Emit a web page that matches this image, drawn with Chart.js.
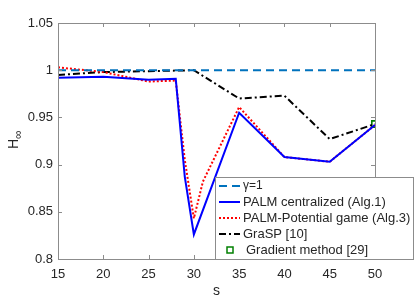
<!DOCTYPE html>
<html>
<head>
<meta charset="utf-8">
<script src="https://cdn.jsdelivr.net/npm/chart.js@4.4.0/dist/chart.umd.min.js"></script>
<style>
  html, body { margin: 0; padding: 0; background: #fff; }
  #wrap { width: 415px; height: 301px; }
</style>
</head>
<body>
<div id="wrap"><canvas id="hChart" width="415" height="301"></canvas></div>
<script>
// values
var sGamma   = [15, 50];
var hGamma   = [1.0, 1.0];

var sPalm    = [15, 20, 25, 28, 29, 30, 35, 40, 45, 50];
var hPalm    = [0.992, 0.993, 0.990, 0.991, 0.887, 0.826, 0.955, 0.908, 0.903, 0.942];

var sGame    = [15, 20, 25, 28, 29, 30, 31, 35, 40, 45, 50];
var hGame    = [1.003, 0.998, 0.988, 0.989, 0.905, 0.843, 0.882, 0.961, 0.908, 0.903, 0.942];

var sGrasp   = [15, 20, 25, 30, 35, 40, 45, 50];
var hGrasp   = [0.995, 0.998, 0.999, 1.0, 0.970, 0.973, 0.927, 0.943];

var sGrad    = [50];
var hGrad    = [0.943];

var xTicks = [15, 20, 25, 30, 35, 40, 45, 50];
var yTicks = [0.8, 0.85, 0.9, 0.95, 1, 1.05];

var labels = ['\u03b3=1', 'PALM centralized (Alg.1)', 'PALM-Potential game (Alg.3)', 'GraSP [10]', 'Gradient method [29]'];

function pts(xs, ys) {
  return xs.map(function (x, i) { return { x: x, y: ys[i] }; });
}

var axisCol = '#8c8c8c';
var txtCol = '#262626';
var font = '"Liberation Sans", Arial, sans-serif';

// MATLAB-like box, inward ticks, titles and legend
var matlabBox = {
  id: 'matlabBox',
  afterDatasetsDraw: function (chart) {
    var c = chart.ctx, a = chart.chartArea;
    var xs = chart.scales.x, ys = chart.scales.y;
    c.save();
    c.strokeStyle = axisCol;
    c.lineWidth = 1;
    c.strokeRect(Math.round(a.left) + 0.5, Math.round(a.top) + 0.5,
                 Math.round(a.right - a.left), Math.round(a.bottom - a.top));
    c.beginPath();
    xTicks.forEach(function (v) {
      var px = Math.round(xs.getPixelForValue(v)) + 0.5;
      c.moveTo(px, a.bottom); c.lineTo(px, a.bottom - 4);
      c.moveTo(px, a.top); c.lineTo(px, a.top + 4);
    });
    yTicks.forEach(function (v) {
      var py = Math.round(ys.getPixelForValue(v)) + 0.5;
      c.moveTo(a.left, py); c.lineTo(a.left + 4, py);
      c.moveTo(a.right, py); c.lineTo(a.right - 4, py);
    });
    c.stroke();

    // axis titles
    c.fillStyle = txtCol;
    c.font = '14px ' + font;
    c.textAlign = 'center';
    c.textBaseline = 'middle';
    c.fillText('s', (a.left + a.right) / 2, 291);
    c.save();
    c.translate(14, (a.top + a.bottom) / 2);
    c.rotate(-Math.PI / 2);
    c.textAlign = 'left';
    c.font = '14px ' + font;
    c.fillText('H', -8, 0);
    c.font = '12px ' + font;
    c.fillText('\u221e', 2, 5);
    c.restore();

    // legend
    var lx = 215, ly = 177, lw = 198, lh = 82;
    c.fillStyle = '#ffffff';
    c.fillRect(lx, ly, lw, lh);
    c.strokeStyle = axisCol;
    c.strokeRect(lx + 0.5, ly + 0.5, lw, lh);
    var ds = chart.data.datasets;
    c.textAlign = 'left';
    c.textBaseline = 'middle';
    for (var i = 0; i < ds.length; i++) {
      var y = ly + 9 + i * 16;
      var d = ds[i];
      if (d.showLine !== false) {
        c.beginPath();
        c.strokeStyle = d.borderColor;
        c.lineWidth = d.borderWidth;
        c.setLineDash(d.borderDash || []);
        c.moveTo(219, y); c.lineTo(240, y);
        c.stroke();
        c.setLineDash([]);
      } else {
        c.strokeStyle = d.borderColor;
        c.lineWidth = 1.5;
        c.strokeRect(227, y - 3, 6, 6);
      }
      c.fillStyle = txtCol;
      if (i === 0) {
        c.font = '12px ' + font;
        c.fillText(labels[i], 243, y);
      } else {
        c.font = '13px ' + font;
        c.fillText(labels[i], i === 4 ? 246 : 243, y);
      }
    }
    c.restore();
  }
};

new Chart(document.getElementById('hChart'), {
  type: 'scatter',
  data: {
    datasets: [
      { label: labels[0], data: pts(sGamma, hGamma), showLine: true, borderColor: '#0072bd',
        borderWidth: 2, borderDash: [8, 5], pointRadius: 0, fill: false },
      { label: labels[1], data: pts(sPalm, hPalm), showLine: true, borderColor: '#0000ff',
        borderWidth: 2, pointRadius: 0, fill: false },
      { label: labels[2], data: pts(sGame, hGame), showLine: true, borderColor: '#ff0000',
        borderWidth: 2, borderDash: [2, 2], pointRadius: 0, fill: false },
      { label: labels[3], data: pts(sGrasp, hGrasp), showLine: true, borderColor: '#000000',
        borderWidth: 2, borderDash: [7, 3, 2, 3], pointRadius: 0, fill: false },
      { label: labels[4], data: pts(sGrad, hGrad), showLine: false, borderColor: '#008000',
        backgroundColor: 'rgba(0,0,0,0)', pointStyle: 'rect', pointRadius: 4.5,
        pointBorderWidth: 1.6, borderWidth: 1.6 }
    ]
  },
  options: {
    responsive: false,
    animation: false,
    layout: { padding: { top: 23, right: 40, left: 0, bottom: 0 } },
    plugins: { legend: { display: false }, tooltip: { enabled: false } },
    scales: {
      x: {
        type: 'linear', min: 15, max: 50,
        afterFit: function (s) { s.height = 42; },
        afterBuildTicks: function (s) { s.ticks = xTicks.map(function (v) { return { value: v }; }); },
        grid: { display: false, drawTicks: false },
        border: { display: false },
        ticks: { color: txtCol, font: { size: 13, family: font }, padding: 8, maxRotation: 0 }
      },
      y: {
        min: 0.8, max: 1.05,
        afterFit: function (s) { s.width = 58; },
        afterBuildTicks: function (s) { s.ticks = yTicks.map(function (v) { return { value: v }; }); },
        grid: { display: false, drawTicks: false },
        border: { display: false },
        ticks: { color: txtCol, font: { size: 13, family: font }, padding: 5,
                 callback: function (v) { return String(Math.round(v * 100) / 100); } }
      }
    }
  },
  plugins: [matlabBox]
});
</script>
</body>
</html>
